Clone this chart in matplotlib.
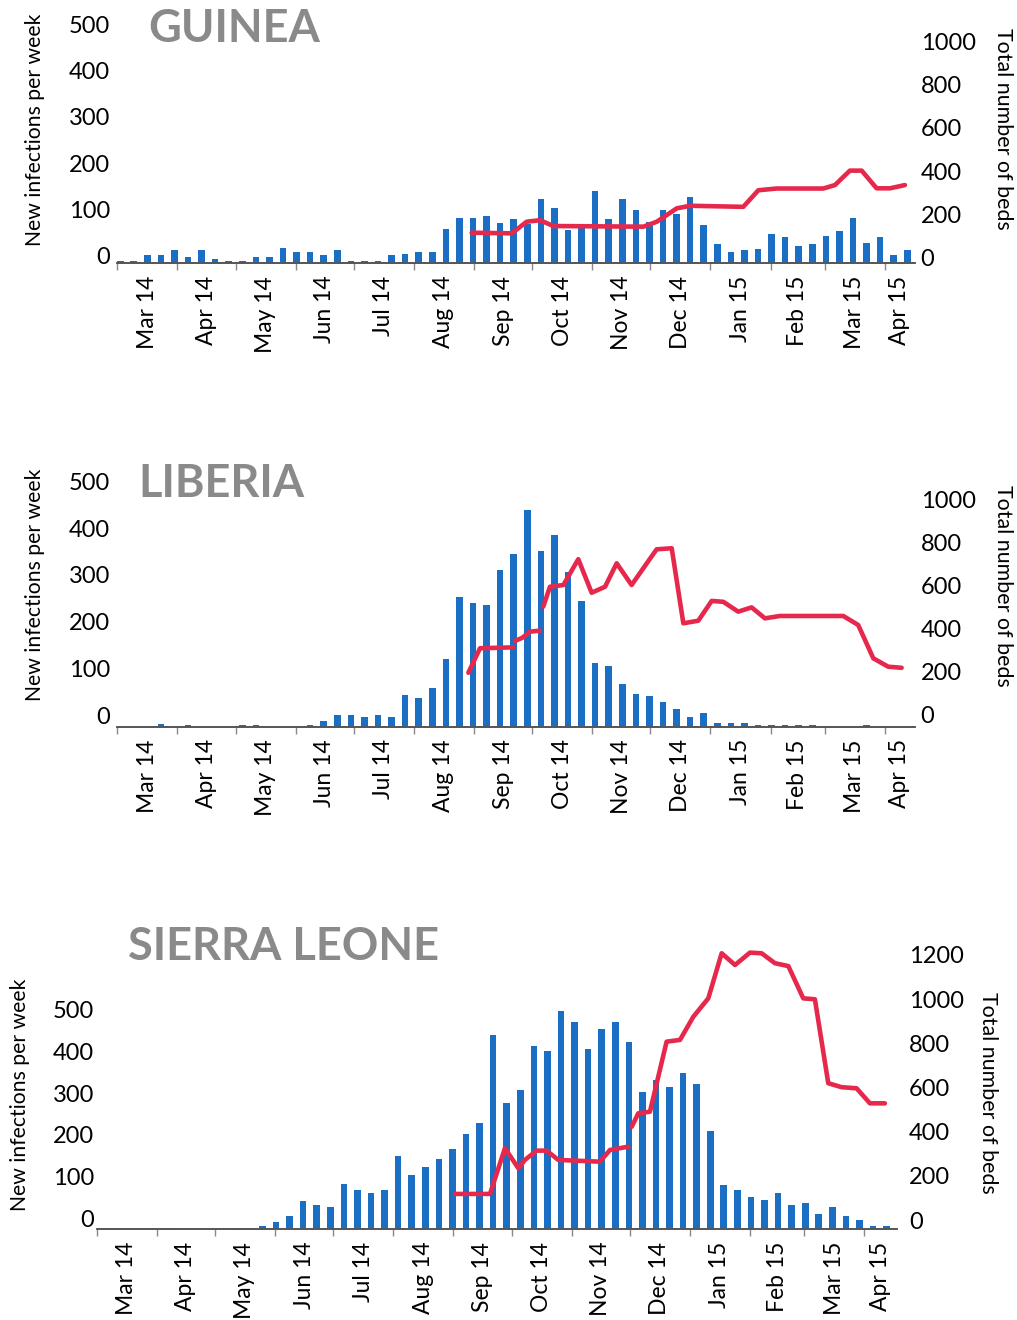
import numpy as np
import pandas as pd
import matplotlib
matplotlib.use('Agg')
import matplotlib.pyplot as plt
from matplotlib.ticker import FixedLocator, NullFormatter

plt.rcParams['font.family'] = ['Lato', 'DejaVu Sans']

W, H = 1017, 1320
nan = np.nan

# Weekly new infections (one bar per week, first week starting 2 Mar 2014).
guinea_cases = [5, 5, 17, 17, 28, 14, 28, 10, 5, 4, 14, 14, 33, 24, 24, 17, 28, 4, 4, 4,
                19, 21, 24, 24, 75, 98, 98, 102, 87, 95, 85, 139, 120, 71, 85, 156, 95, 139, 116, 90,
                116, 107, 143, 82, 41, 24, 28, 32, 64, 58, 37, 41, 60, 70, 98, 45, 57, 19, 29]
liberia_cases = [0, 0, 0, 5, 0, 4, 0, 0, 0, 3, 3, 0, 0, 0, 3, 12, 25, 25, 21, 25,
                 20, 67, 62, 83, 145, 278, 264, 261, 336, 370, 465, 377, 411, 332, 269, 136, 131, 91, 70, 66,
                 53, 37, 20, 29, 8, 8, 8, 4, 4, 4, 4, 4, 0, 0, 0, 4, 0, 0, 0]
sl_cases = [0, 3, 0, 0, 0, 3, 0, 0, 0, 0, 3, 3, 8, 18, 31, 68, 58, 53, 108, 93,
            88, 93, 176, 130, 149, 167, 191, 227, 254, 465, 301, 333, 439, 426, 523, 497, 431, 478, 497, 449,
            328, 356, 340, 374, 348, 236, 106, 93, 78, 69, 87, 59, 63, 37, 54, 33, 22, 9, 9]

# Total number of beds (day = days since 1 Mar 2014, nan = break in the line).
guinea_bed_day = [182.8, 203.5, 211.2, 218.1, 224.9, 271.4, 278.3, 288.6, 295.5, 322.9,
                  330.7, 340.2, 364.2, 370.2, 377.9, 384.0, 391.7, 398.6, 406.3]
guinea_beds = [142, 139, 193, 200, 173, 170, 193, 255, 267, 262,
               339, 347, 347, 363, 430, 430, 348, 348, 363]

liberia_bed_day = [181.1, 187.1, 204.2, nan, 205.1, 208.8, 212.9, 218.0, nan,
                   219.7, 223.2, 230.1, 237.8, 244.7, 251.6, 257.6, 265.3, 278.2, 286.0,
                   292.0, 299.7, 306.6, 312.6, 320.3, 327.2, 334.1, 341.8, 374.5, 382.2,
                   390.0, 397.7, 404.6]
liberia_beds = [251, 365, 369, nan, 399, 413, 442, 447, nan,
                558, 651, 659, 779, 623, 651, 760, 659, 825, 830,
                481, 493, 585, 581, 535, 555, 504, 515, 515, 473,
                318, 279, 274]

sl_bed_day = [184.8, 202.9, 210.6, 217.5, 220.9, 227.0, 232.1, 238.1, 259.6, 264.8, 274.2, nan,
              276.0, 279.4, 285.4, 294.0, 300.9, 307.8, 315.5, 322.4, 329.3, 337.0, 343.0,
              349.9, 356.8, 364.5, 370.5, 377.4, 384.3, 392.0, 398.9, 406.6]
sl_beds = [160, 160, 367, 276, 314, 356, 356, 314, 306, 359, 374, nan,
           464, 525, 532, 849, 857, 962, 1045, 1249, 1196, 1252, 1249,
           1204, 1191, 1045, 1041, 661, 643, 638, 570, 570]

start = pd.Timestamp('2014-03-01')
week_day = (pd.date_range('2014-03-02', periods=59, freq='7D') - start).days + 0.5
months = pd.date_range('2014-03-01', '2015-04-01', freq='MS')
month_day = np.array((months - start).days, dtype=float)
month_names = [m.strftime('%b %y') for m in months]

BLUE = '#1a6ec4'
RED = '#e6284c'
GREY = '#8a8a8a'

fig = plt.figure(figsize=(W / 100, H / 100), dpi=100)


def px_axes(left, top, right, bottom):
    return fig.add_axes([left / W, 1 - bottom / H, (right - left) / W, (bottom - top) / H])


def panel(box, xmax, cases, bed_day, beds, lscale, rscale, rticks, lshift, rshift, lpad, rpad):
    ax = px_axes(*box)
    ax.bar(week_day, cases, width=3.4, color=BLUE, zorder=2)

    ax2 = ax.twinx()
    ax2.plot(bed_day, beds, color=RED, lw=3.3, solid_joinstyle='round',
             solid_capstyle='round', clip_on=False)

    # tick labels sit a little above their gridline in the original
    lt = np.arange(0, 501, 100)
    ax.set_yticks(lt + lshift, [str(v) for v in lt])
    ax2.set_yticks(np.array(rticks) + rshift, [str(v) for v in rticks])
    ax.tick_params(axis='y', length=0, pad=lpad, labelsize=17)
    ax2.tick_params(axis='y', length=0, pad=rpad, labelsize=17)

    # month boundaries as ticks, month names centred in between
    ax.xaxis.set_major_locator(FixedLocator(month_day))
    ax.xaxis.set_major_formatter(NullFormatter())
    mids = [(a + min(b, xmax)) / 2 for a, b in zip(month_day, list(month_day[1:]) + [xmax])]
    ax.set_xticks(mids, month_names, minor=True, rotation=90)
    ax.tick_params(axis='x', which='major', length=5, color='#888888', width=1)
    ax.tick_params(axis='x', which='minor', length=0, pad=9, labelsize=16.5)

    # limits last (set_yticks may have widened them); scale = pixels per unit
    height = box[3] - box[1]
    ax.set_xlim(0, xmax)
    ax.set_ylim(0, height / lscale)
    ax2.set_ylim(0, height / rscale)

    for a in (ax, ax2):
        for s in ('top', 'left', 'right'):
            a.spines[s].set_visible(False)
        a.spines['bottom'].set_color('#555555')
        a.spines['bottom'].set_linewidth(1.2)
    return ax


panel((117.3, 15, 915, 263.3), 411.5, guinea_cases, guinea_bed_day, guinea_beds,
      0.462, 0.2155, [0, 200, 400, 600, 800, 1000], 17, 28, 5, 4)
panel((117.3, 470, 915, 726.7), 411.5, liberia_cases, liberia_bed_day, liberia_beds,
      0.467, 0.215, [0, 200, 400, 600, 800, 1000], 25, 58, 5, 4)
panel((96.7, 945, 896.7, 1229.3), 412.7, sl_cases, sl_bed_day, sl_beds,
      0.418, 0.221, [0, 200, 400, 600, 800, 1000, 1200], 26, 42, 2, 9)

# Country titles
for name, x, y in [('GUINEA', 148, 42), ('LIBERIA', 138, 497), ('SIERRA LEONE', 128, 960)]:
    fig.text(x / W, 1 - y / H, name, fontsize=32.5, fontweight='bold', color=GREY,
             ha='left', va='baseline')

# Axis titles
for x, y in [(35, 130), (35, 585), (20, 1095)]:
    fig.text(x / W, 1 - y / H, 'New infections per week', rotation=90, fontsize=15.2,
             ha='center', va='center')
for x, y in [(1003, 129), (1003, 586), (988, 1093)]:
    fig.text(x / W, 1 - y / H, 'Total number of beds', rotation=270, fontsize=15.4,
             ha='center', va='center')

fig.savefig('out.png', dpi=100)
